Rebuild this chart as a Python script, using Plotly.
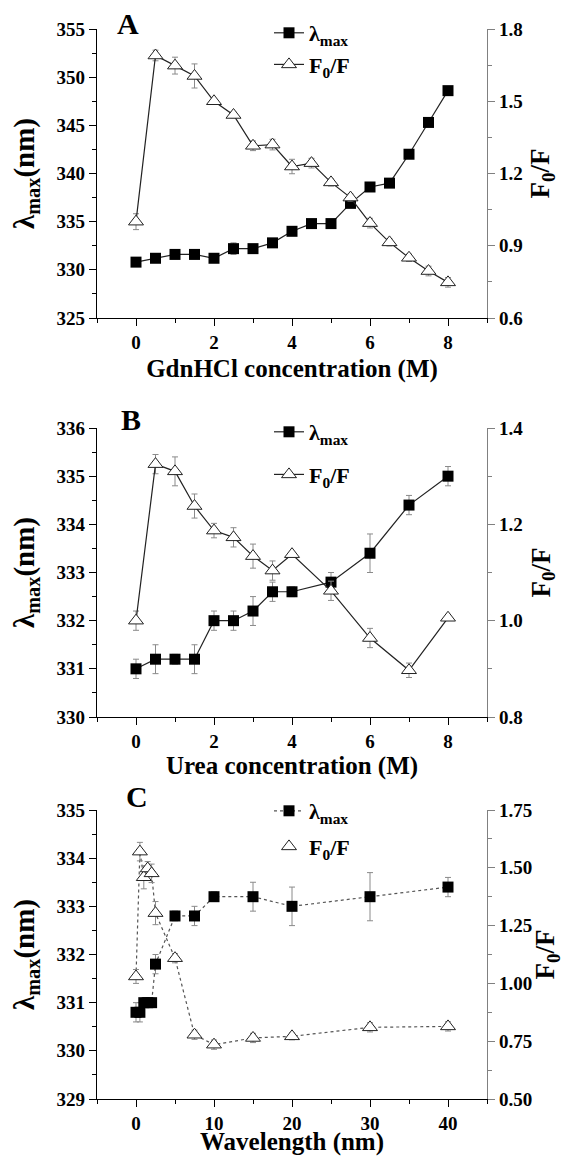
import plotly.graph_objects as go

# ---------------- Data ----------------
# Panel A: GdnHCl
xA = [0, 0.5, 1, 1.5, 2, 2.5, 3, 3.5, 4, 4.5, 5, 5.5, 6, 6.5, 7, 7.5, 8]
lamA = [330.8, 331.2, 331.6, 331.6, 331.2, 332.2, 332.2, 332.8, 334.0, 334.8, 334.8, 336.9, 338.6, 339.0, 342.0, 345.3, 348.6]
lamA_err = [0.4, 0.2, 0.2, 0.2, 0.3, 0.6, 0.2, 0.2, 0.2, 0.2, 0.2, 0.3, 0.2, 0.2, 0.3, 0.2, 0.2]
fA = [1.00, 1.69, 1.648, 1.605, 1.50, 1.443, 1.315, 1.32, 1.229, 1.243, 1.163, 1.10, 0.994, 0.914, 0.85, 0.795, 0.748]
fA_err = [0.033, 0.022, 0.035, 0.05, 0.01, 0.012, 0.02, 0.022, 0.03, 0.02, 0.015, 0.015, 0.02, 0.015, 0.015, 0.02, 0.02]

# Panel B: Urea
xB = [0, 0.5, 1, 1.5, 2, 2.5, 3, 3.5, 4, 5, 6, 7, 8]
lamB = [331.0, 331.2, 331.2, 331.2, 332.0, 332.0, 332.2, 332.6, 332.6, 332.8, 333.4, 334.4, 335.0]
lamB_err = [0.2, 0.3, 0.1, 0.3, 0.2, 0.2, 0.3, 0.2, 0.1, 0.2, 0.4, 0.2, 0.2]
fB = [1.00, 1.325, 1.31, 1.238, 1.187, 1.173, 1.134, 1.104, 1.138, 1.062, 0.964, 0.897, 1.006]
fB_err = [0.02, 0.02, 0.03, 0.025, 0.015, 0.02, 0.025, 0.02, 0.0, 0.02, 0.02, 0.015, 0.0]

# Panel C: Wavelength
xC = [0, 0.5, 1, 1.5, 2, 2.5, 5, 7.5, 10, 15, 20, 30, 40]
lamC = [330.8, 330.8, 331.0, 331.0, 331.0, 331.8, 332.8, 332.8, 333.2, 333.2, 333.0, 333.2, 333.4]
lamC_err = [0.2, 0.2, 0.1, 0.1, 0.1, 0.2, 0.1, 0.2, 0.1, 0.3, 0.4, 0.5, 0.2]
fC = [1.03, 1.57, 1.459, 1.497, 1.476, 1.304, 1.109, 0.778, 0.735, 0.764, 0.771, 0.81, 0.814]
fC_err = [0.03, 0.04, 0.05, 0.03, 0.04, 0.05, 0.02, 0.02, 0.02, 0.02, 0.015, 0.02, 0.02]

panel_labels = ["A", "B", "C"]
x_titles = ["GdnHCl concentration (M)", "Urea concentration (M)", "Wavelength (nm)"]

# ---------------- Styling ----------------
FONT = "Liberation Serif, Times New Roman, serif"
W, H = 564, 1156
xdom = [97 / W, 487 / W]
ydoms = [
    [1 - 318 / H, 1 - 29 / H],
    [1 - 717 / H, 1 - 428 / H],
    [1 - 1099 / H, 1 - 810 / H],
]
tickfont = dict(family=FONT, size=19, color="black", weight="bold")
titlefont = dict(family=FONT, size=25, color="black", weight="bold")
ltitlefont = dict(family=FONT, size=29, color="black", weight="bold")
rtitlefont = dict(family=FONT, size=27, color="black", weight="bold")
ERR_COLOR = "#8a8a8a"

fig = go.Figure()


def add_panel(i, x, lam, lam_err, f, f_err, line_dash, line_color, f_legend_line):
    xa = "x" if i == 0 else f"x{i + 1}"
    yl = f"y{2 * i + 1}" if i > 0 else "y"
    yr = f"y{2 * i + 2}"
    leg = "legend" if i == 0 else f"legend{i + 1}"
    fig.add_trace(go.Scatter(
        x=x, y=lam, xaxis=xa, yaxis=yl, mode="lines+markers",
        name="λ<sub>max</sub>", legend=leg, legendgroup=f"l{i}",
        line=dict(color=line_color, width=1.2, dash=line_dash),
        marker=dict(symbol="square", size=11, color="black", line=dict(color="black", width=0)),
        error_y=dict(type="data", array=lam_err, visible=True, color=ERR_COLOR, thickness=1, width=3),
    ))
    if not f_legend_line:
        # connecting line drawn separately so the legend shows the marker only
        fig.add_trace(go.Scatter(
            x=x, y=f, xaxis=xa, yaxis=yr, mode="lines", showlegend=False,
            line=dict(color=line_color, width=1.2, dash=line_dash), hoverinfo="skip",
        ))
    fig.add_trace(go.Scatter(
        x=x, y=f, xaxis=xa, yaxis=yr, mode="lines+markers" if f_legend_line else "markers",
        name="F<sub>0</sub>/F", legend=leg, legendgroup=f"f{i}",
        line=dict(color=line_color, width=1.2, dash=line_dash),
        marker=dict(symbol="triangle-up", size=13, color="white", line=dict(color="#222", width=1)),
        error_y=dict(type="data", array=f_err, visible=True, color=ERR_COLOR, thickness=1, width=3),
    ))


add_panel(0, xA, lamA, lamA_err, fA, fA_err, "solid", "#222", True)
add_panel(1, xB, lamB, lamB_err, fB, fB_err, "solid", "#222", True)
add_panel(2, xC, lamC, lamC_err, fC, fC_err, "dot", "#555", False)

x_ranges = [[-1, 9], [-1, 9], [-5, 45]]
x_dticks = [2, 2, 10]
yl_ranges = [[325, 355], [330, 336], [329, 335]]
yl_dticks = [5, 1, 1]
yr_ranges = [[0.6, 1.8], [0.8, 1.4], [0.5, 1.75]]
yr_dticks = [0.3, 0.2, 0.25]
yr_formats = [".1f", ".1f", ".2f"]
x_standoffs = [7, 1, 14]

axis_common = dict(
    showgrid=False, zeroline=False, showline=True, linewidth=1.4,
    ticks="outside", ticklen=7, tickwidth=1.3, tickfont=tickfont, automargin=False,
)

layout = {}
for i in range(3):
    xs = "xaxis" if i == 0 else f"xaxis{i + 1}"
    yls = "yaxis" if i == 0 else f"yaxis{2 * i + 1}"
    yrs = f"yaxis{2 * i + 2}"
    yl_anchor = "y" if i == 0 else f"y{2 * i + 1}"
    x_anchor = "x" if i == 0 else f"x{i + 1}"
    layout[xs] = dict(
        axis_common, domain=xdom, anchor=yl_anchor, range=x_ranges[i], dtick=x_dticks[i],
        linecolor="black", tickcolor="black",
        minor=dict(dtick=x_dticks[i] / 2, ticks="outside", ticklen=4, tickcolor="black"),
        title=dict(text=f"<b>{x_titles[i]}</b>", font=titlefont, standoff=x_standoffs[i]),
    )
    layout[yls] = dict(
        axis_common, domain=ydoms[i], anchor=x_anchor, range=yl_ranges[i], dtick=yl_dticks[i],
        linecolor="black", tickcolor="black",
        minor=dict(dtick=yl_dticks[i] / 2, ticks="outside", ticklen=4, tickcolor="black"),
        title=dict(text="<b>λ<sub>max</sub>(nm)</b>", font=ltitlefont, standoff=13),
    )
    layout[yrs] = dict(
        axis_common, domain=ydoms[i], anchor=x_anchor, overlaying=yl_anchor, side="right",
        range=yr_ranges[i], dtick=yr_dticks[i], tickformat=yr_formats[i],
        linecolor="#808080", tickcolor="#808080",
        minor=dict(dtick=yr_dticks[i] / 2, ticks="outside", ticklen=4, tickcolor="#808080"),
        title=dict(text="<b>F<sub>0</sub>/F</b>", font=rtitlefont, standoff=8),
    )

legend_common = dict(
    font=dict(family=FONT, size=22, color="black", weight="bold"),
    bgcolor="rgba(0,0,0,0)", xanchor="left", yanchor="top",
    traceorder="grouped", itemwidth=30,
)
layout["legend"] = dict(legend_common, x=269 / W, y=1 - 12 / H, tracegroupgap=0)
layout["legend2"] = dict(legend_common, x=269 / W, y=1 - 411 / H, tracegroupgap=11)
layout["legend3"] = dict(legend_common, x=269 / W, y=1 - 790 / H, tracegroupgap=4)

annotations = []
label_pos = [(128, 23), (131, 419), (137, 796)]
for lab, (px, py) in zip(panel_labels, label_pos):
    annotations.append(dict(
        text=f"<b>{lab}</b>", x=px / W, y=1 - py / H, xref="paper", yref="paper",
        showarrow=False, font=dict(family=FONT, size=30, color="black"),
        xanchor="center", yanchor="middle",
    ))

fig.update_layout(
    width=W, height=H, margin=dict(l=0, r=0, t=0, b=0),
    paper_bgcolor="white", plot_bgcolor="white",
    annotations=annotations, **layout,
)

fig.write_html(
    "out.html",
    config={"displayModeBar": False},
    post_script="document.body.style.margin='0';",
)
